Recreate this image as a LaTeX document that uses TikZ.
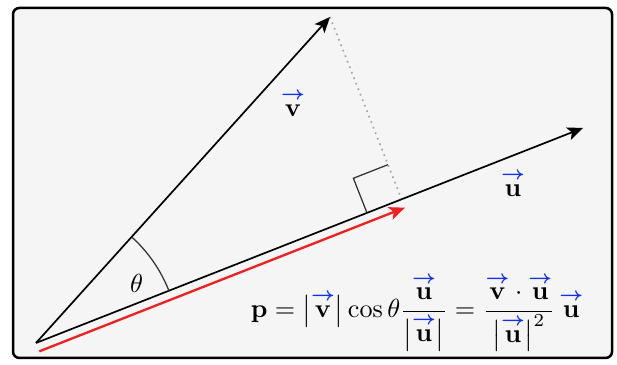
\documentclass[tikz,border=0pt]{standalone}
\usepackage{amsmath}
\usetikzlibrary{arrows.meta, calc, angles, quotes}
\definecolor{cframe}{HTML}{F5F5F5}
\definecolor{cred}{HTML}{F02020}
\definecolor{cblue}{HTML}{1030F0}
\newcommand{\bvec}[1]{\overset{\textcolor{cblue}{\boldsymbol{\rightarrow}}}{\mathbf{#1}}}
\tikzset{
  frame/.style={draw=black, fill=cframe, line width=1.2pt, rounded corners=3pt},
  vecline/.style={-{Stealth[length=2.6mm, width=2.2mm, inset=0.6mm]}, draw=black, line width=0.8pt},
  projline/.style={-{Stealth[length=2.6mm, width=2.2mm, inset=0.6mm]}, draw=cred, line width=1.1pt},
  dropline/.style={draw=black!35, dotted, line width=0.8pt},
  anglemark/.style={draw=black!80, line width=0.6pt},
  lab/.style={scale=1.24, inner sep=1pt},
}

\begin{document}
\begin{tikzpicture}
  \useasboundingbox (0, 0) rectangle (10.283, 6.083);
  \draw[frame] (0.217, 0.117) rectangle (10.2, 5.95);
  % the two vectors
  \coordinate (O) at (0.6, 0.367);
  \coordinate (V) at (5.5, 5.8);
  \coordinate (U) at (9.717, 3.95);
  \coordinate (F) at ($(O)!(V)!(U)$);
  \draw[dropline] (V) -- (F);
  \coordinate (Ra) at ($(F)!0.62cm!(O)$);
  \coordinate (Rb) at ($(F)!0.62cm!(V)$);
  \draw[anglemark] (Ra) -- ($(Ra)+(Rb)-(F)$) -- (Rb);
  \draw[vecline] (O) -- (V);
  \draw[vecline] (O) -- (U);
  % projection, shifted below u
  \coordinate (Ps) at ($(O)!0.15cm!-90:(U)$);
  \coordinate (Pe) at ($(F)!0.15cm!90:(O)$);
  \draw[projline] (Ps) -- (Pe);
  \pic[anglemark, angle radius=2.38cm] {angle = U--O--V};
  \node[lab] (theta) at ($(O)+(30.7:1.95)$) {$\theta$};
  \node[lab] (vlab) at (4.883, 4.367) {$\bvec{v}$};
  \node[lab] (ulab) at (8.55, 3.033) {$\bvec{u}$};
  \node[lab] (formula) at (6.95, 0.88) {$\displaystyle \mathbf{p} = \bigl|\bvec{v}\bigr| \cos\theta \frac{\bvec{u}}{\bigl|\bvec{u}\bigr|} = \frac{\bvec{v}\cdot\bvec{u}}{\bigl|\bvec{u}\bigr|^{2}}\,\bvec{u}$};
\end{tikzpicture}
\end{document}
